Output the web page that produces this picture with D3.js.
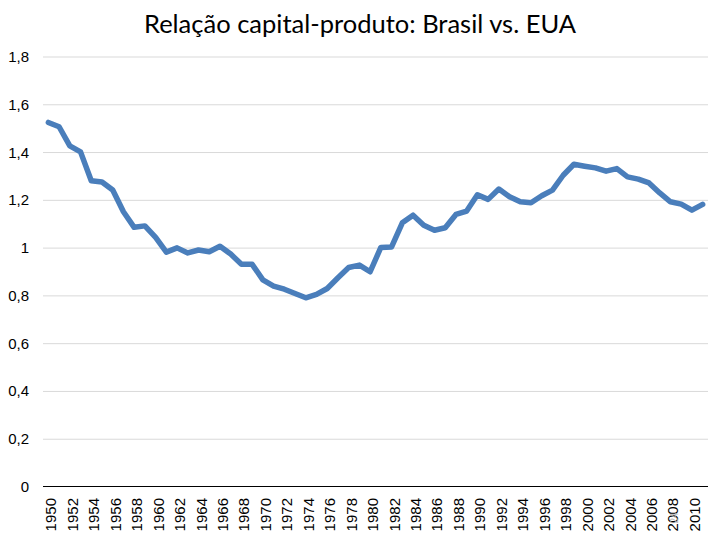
<!DOCTYPE html>
<html><head><meta charset="utf-8">
<script src="https://cdn.jsdelivr.net/npm/d3@7"></script>
<style>body{margin:0;background:#fff}</style>
</head><body>
<svg id="c" width="720" height="540"></svg>
<script>
const years = d3.range(1950, 2012);
const values = [1.526,1.508,1.428,1.403,1.282,1.277,1.243,1.152,1.087,1.093,
1.045,0.983,1.001,0.980,0.992,0.985,1.008,0.975,0.932,0.932,
0.867,0.841,0.828,0.810,0.792,0.806,0.831,0.876,0.919,0.929,
0.901,1.003,1.005,1.106,1.138,1.096,1.075,1.085,1.141,1.155,
1.223,1.204,1.247,1.215,1.194,1.190,1.219,1.243,1.305,1.351,
1.343,1.336,1.322,1.333,1.298,1.289,1.273,1.231,1.194,1.184,
1.159,1.183];
const yTicks = [0,0.2,0.4,0.6,0.8,1,1.2,1.4,1.6,1.8];
const yTickLabels = ["0","0,2","0,4","0,6","0,8","1","1,2","1,4","1,6","1,8"];
const xTickYears = years.filter(y => y % 2 === 0 && y <= 2010);
const title = "Relação capital-produto: Brasil vs. EUA";

const svg = d3.select("#c");
const L = 43, R = 708, T = 57, B = 487;
const x = d3.scaleBand().domain(years).range([L, R]);
const y = d3.scaleLinear().domain([0, 1.8]).range([B, T]);

// gridlines
svg.append("g").selectAll("line").data(yTicks.filter(d => d > 0)).join("line")
  .attr("x1", L).attr("x2", R)
  .attr("y1", d => y(d)).attr("y2", d => y(d))
  .attr("stroke", "#d9d9d9").attr("stroke-width", 1);

// y labels
svg.append("g").selectAll("text").data(yTicks).join("text")
  .attr("x", 29).attr("y", d => y(d) + 5)
  .attr("text-anchor", "end")
  .attr("font-family", "Liberation Sans, Arial, sans-serif")
  .attr("font-size", 15).attr("fill", "#000")
  .text((d, i) => yTickLabels[i]);

// x axis line
svg.append("line").attr("x1", L).attr("x2", R).attr("y1", B - 0.5).attr("y2", B - 0.5)
  .attr("stroke", "#000").attr("stroke-width", 1);

// x labels
svg.append("g").selectAll("text").data(xTickYears).join("text")
  .attr("transform", d => `translate(${x(d) + x.bandwidth() / 2 + 8},${B + 11}) rotate(-90)`)
  .attr("text-anchor", "end")
  .attr("font-family", "Liberation Sans, Arial, sans-serif")
  .attr("font-size", 15).attr("fill", "#000")
  .text(d => d);

// line
const line = d3.line()
  .x((d, i) => x(years[i]) + x.bandwidth() / 2)
  .y(d => y(d));
svg.append("path").datum(values)
  .attr("d", line)
  .attr("fill", "none")
  .attr("stroke", "#4a7ebb")
  .attr("stroke-width", 5.5)
  .attr("stroke-linejoin", "round")
  .attr("stroke-linecap", "round");

// title
svg.append("text").attr("x", 360).attr("y", 33)
  .attr("text-anchor", "middle")
  .attr("font-family", "Lato, Carlito, Calibri, sans-serif")
  .attr("font-size", 25.5).attr("fill", "#000")
  .text(title);

// faint page number
svg.append("text").attr("transform", "translate(678,518) rotate(-90)")
  .attr("text-anchor", "middle")
  .attr("font-family", "Liberation Sans, Arial, sans-serif")
  .attr("font-size", 10).attr("fill", "#bbb")
  .text("24");
</script>
</body></html>
